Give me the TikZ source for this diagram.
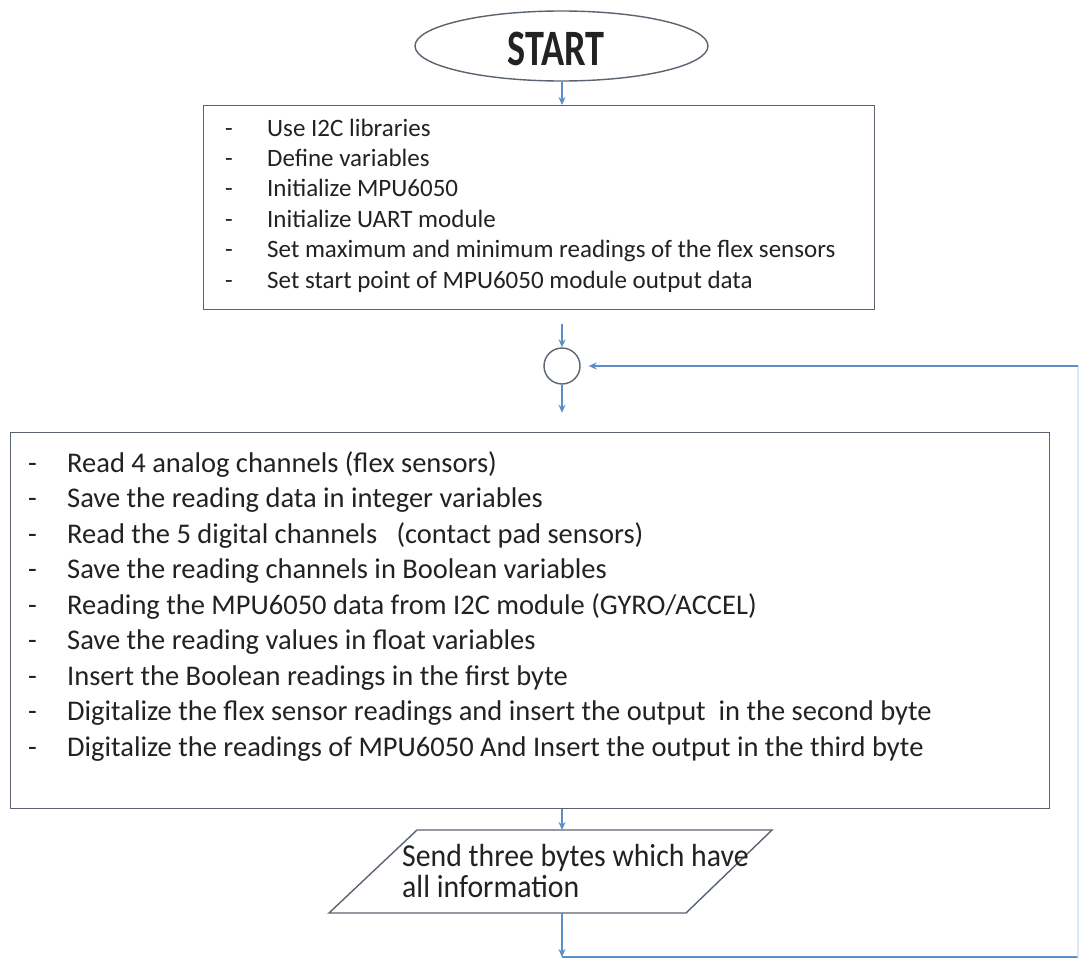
\documentclass[tikz,border=0pt]{standalone}
\usepackage{fontspec}
\setmainfont{Carlito}
\usetikzlibrary{arrows.meta,calc,shapes.geometric}
\definecolor{boxline}{HTML}{5A6470}
\definecolor{arrowc}{HTML}{5B8FC7}
\definecolor{loopc}{HTML}{DCE8F4}
\definecolor{txt}{HTML}{222222}
\tikzset{
  outline/.style={draw=boxline, line width=1.4pt, inner sep=0pt},
  arr/.style={draw=arrowc, line width=1.3pt, -{Stealth[length=8pt,width=7pt]}},
  loopline/.style={draw=arrowc, line width=1.3pt},
  txtnode/.style={inner sep=0pt, text=txt, anchor=base west}
}
\begin{document}
\begin{tikzpicture}[x=1pt,y=-1pt]
\useasboundingbox (0,0) rectangle (1086,958);
\fill[white] (0,0) rectangle (1086,958);

% START ellipse
\node[outline, ellipse, minimum width=293pt, minimum height=70pt] (start) at (561.5,46) {};
\node[inner sep=0pt, text=txt] (starttext) at (556,48.5) {\scalebox{0.75}[1]{\fontsize{51}{51}\selectfont\bfseries START}};

% init box
\node[outline, anchor=north west, minimum width=671pt, minimum height=204pt] (init) at (202.5,105) {};
\node[txtnode, font=\fontsize{25}{30.4}\selectfont] (inittext) at (225,136) {\begin{tabular}[t]{@{}p{42pt}@{}l@{}}
-&Use I2C libraries\\
-&Define variables\\
-&Initialize MPU6050\\
-&Initialize UART module\\
-&Set maximum and minimum readings of the flex sensors\\
-&Set start point of MPU6050 module output data
\end{tabular}};

% join circle
\node[outline, circle, minimum size=36pt] (join) at (562,366) {};

% process box
\node[outline, anchor=north west, minimum width=1039pt, minimum height=376pt] (proc) at (10,432) {};
\node[txtnode, font=\fontsize{28.5}{35.5}\selectfont] (proctext) at (28,472) {\begin{tabular}[t]{@{}p{39pt}@{}l@{}}
-&Read 4 analog channels (flex sensors)\\
-&Save the reading data in integer variables\\
-&Read the 5 digital channels \ \ (contact pad sensors)\\
-&Save the reading channels in Boolean variables\\
-&Reading the MPU6050 data from I2C module (GYRO/ACCEL)\\
-&Save the reading values in float variables\\
-&Insert the Boolean readings in the first byte\\
-&Digitalize the flex sensor readings and insert the output \ in the second byte\\
-&Digitalize the readings of MPU6050 And Insert the output in the third byte
\end{tabular}};

% output parallelogram
\coordinate (ptl) at (417,830);
\coordinate (ptr) at (772,830);
\coordinate (pbr) at (686,913);
\coordinate (pbl) at (329,913);
\draw[draw=boxline, line width=1.4pt] (ptl) -- (ptr) -- (pbr) -- (pbl) -- cycle;
\node[txtnode] (send) at (402,866) {\scalebox{0.93}[1]{\fontsize{32}{31}\selectfont\begin{tabular}[t]{@{}l@{}}Send three bytes which have\\ all information\end{tabular}}};

% connectors
\coordinate (partop) at (562,830);
\coordinate (parbot) at (562,913);
\coordinate (lb) at (562,957);
\coordinate (rb) at (1078,957);
\coordinate (rt) at (1078,366);

\draw[arr] (start.south -| join) -- (init.north -| join);
\draw[arr] ($(init.south -| join)+(0,14)$) -- (join.north);
\draw[arr] (join.south) -- ($(join.south)+(0,28)$);
\draw[arr] (proc.south -| join) -- (partop);
\draw[arr] (parbot) -- (lb);
\draw[loopline] (lb) -- (rb);
\draw[draw=loopc, line width=1.3pt] (rb) -- (rt);
\draw[arr, shorten >=8pt] (rt) -- (join.east);
\end{tikzpicture}
\end{document}
